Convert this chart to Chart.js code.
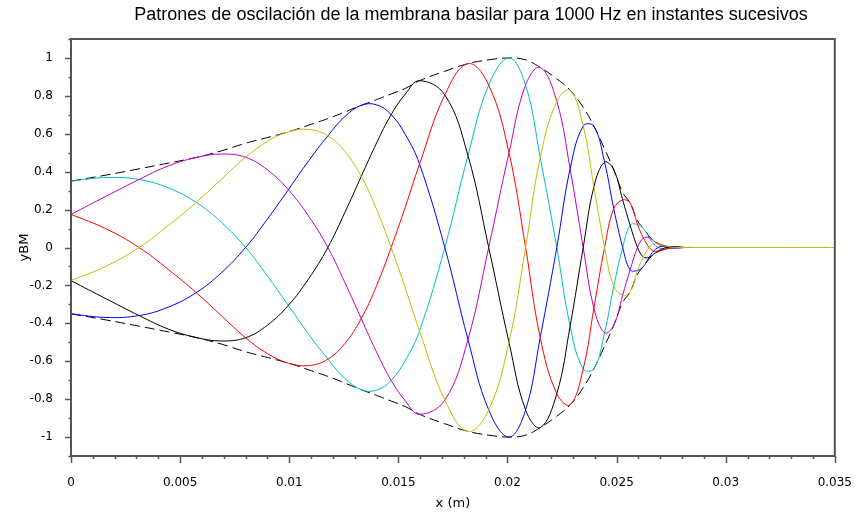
<!DOCTYPE html>
<html>
<head>
<meta charset="utf-8">
<script src="https://cdn.jsdelivr.net/npm/chart.js@4.4.0/dist/chart.umd.min.js"></script>
<style>
  html, body { margin: 0; padding: 0; background: #fff; }
</style>
</head>
<body>
<canvas id="myChart" width="864" height="515"></canvas>
<script>
var xPos = [0, 0.0016, 0.00312, 0.00445, 0.00574, 0.0069, 0.0080, 0.0090, 0.00996, 0.01088,
            0.01177, 0.01255, 0.0133, 0.0140, 0.01467, 0.01533, 0.01597, 0.01713, 0.01819, 0.01914,
            0.02007, 0.02083, 0.0215, 0.02226, 0.02287, 0.02347, 0.02396, 0.02445, 0.02487, 0.02528,
            0.02562, 0.02596, 0.02623, 0.02649, 0.0267, 0.0269, 0.0271, 0.0273, 0.0275, 0.0278,
            0.0282, 0.0285, 0.035]

// envelope (dashed)
var envelope = [0.35, 0.382, 0.415, 0.445, 0.475, 0.51, 0.55, 0.58, 0.61, 0.645,
                0.68, 0.715, 0.75, 0.78, 0.81, 0.84, 0.88, 0.93, 0.97, 0.99,
                1.0, 0.99, 0.95, 0.89, 0.83, 0.74, 0.64, 0.52, 0.41, 0.29,
                0.235, 0.14, 0.10, 0.06, 0.035, 0.022, 0.013, 0.008, 0.004, 0.002,
                0, 0, 0]

var cyanVals = [0.35, 0.369, 0.359, 0.315, 0.238, 0.132, 0, -0.150, -0.305, -0.456,
                -0.589, -0.691, -0.75, -0.753, -0.701, -0.594, -0.44, 0, 0.485, 0.857,
                1.0, 0.857, 0.475, 0, -0.415, -0.641, -0.64, -0.45, -0.205, 0,
                0.118, 0.121, 0.10, 0.052, 0.018, 0, -0.007, -0.007, -0.004, -0.002,
                0, 0, 0]
var magentaVals = [0.175, 0.270, 0.359, 0.430, 0.475, 0.493, 0.476, 0.410, 0.305, 0.167,
                   0, -0.185, -0.375, -0.551, -0.701, -0.811, -0.88, -0.805, -0.485, 0,
                   0.5, 0.857, 0.95, 0.771, 0.415, 0, -0.32, -0.45, -0.41, -0.251,
                   -0.118, 0, 0.05, 0.052, 0.035, 0.019, 0.007, 0, -0.002, -0.002,
                   0, 0, 0]
var oliveVals = [-0.175, -0.099, 0, 0.115, 0.238, 0.361, 0.476, 0.560, 0.61, 0.623,
                 0.589, 0.506, 0.375, 0.202, 0, -0.218, -0.44, -0.805, -0.97, -0.857,
                 -0.5, 0, 0.475, 0.771, 0.83, 0.641, 0.32, 0, -0.205, -0.251,
                 -0.235, -0.121, -0.05, 0, 0.018, 0.019, 0.013, 0.007, 0.002, 0,
                 0, 0, 0]
var blueVals = [-0.35, -0.369, -0.359, -0.315, -0.238, -0.132, 0, 0.150, 0.305, 0.456,
                0.589, 0.691, 0.75, 0.753, 0.701, 0.594, 0.44, 0, -0.485, -0.857,
                -1.0, -0.857, -0.475, 0, 0.415, 0.641, 0.64, 0.45, 0.205, 0,
                -0.118, -0.121, -0.10, -0.052, -0.018, 0, 0.007, 0.007, 0.004, 0.002,
                0, 0, 0]
var blackVals = [-0.175, -0.270, -0.359, -0.430, -0.475, -0.493, -0.476, -0.410, -0.305, -0.167,
                 0, 0.185, 0.375, 0.551, 0.701, 0.811, 0.88, 0.805, 0.485, 0,
                 -0.5, -0.857, -0.95, -0.771, -0.415, 0, 0.32, 0.45, 0.41, 0.251,
                 0.118, 0, -0.05, -0.052, -0.035, -0.019, -0.007, 0, 0.002, 0.002,
                 0, 0, 0]
var redVals = [0.175, 0.099, 0, -0.115, -0.238, -0.361, -0.476, -0.560, -0.61, -0.623,
               -0.589, -0.506, -0.375, -0.202, 0, 0.218, 0.44, 0.805, 0.97, 0.857,
               0.5, 0, -0.475, -0.771, -0.83, -0.641, -0.32, 0, 0.205, 0.251,
               0.235, 0.121, 0.05, 0, -0.018, -0.019, -0.013, -0.007, -0.002, 0,
               0, 0, 0]

var xTicksMajor = [0, 0.005, 0.01, 0.015, 0.02, 0.025, 0.03, 0.035]
var yTicksMajor = [-1, -0.8, -0.6, -0.4, -0.2, 0, 0.2, 0.4, 0.6, 0.8, 1]

var titleText = 'Patrones de oscilación de la membrana basilar para 1000 Hz en instantes sucesivos'
var tickFont = { family: 'DejaVu Sans', size: 12 }

function pts(vals) {
    return xPos.map(function (x, i) { return { x: x, y: vals[i] } })
}

function curve(vals, color) {
    return { data: pts(vals), borderColor: color, borderWidth: 1, pointRadius: 0, tension: 0.4, fill: false }
}

function isMajor(list, v) {
    return list.some(function (m) { return Math.abs(m - v) < 1e-9 })
}

// frame, outside tick marks and title, the way the original plot shows them
const frameAndTicks = {
    id: 'frameAndTicks',
    afterDraw(chart) {
        const ctx = chart.ctx
        const a = chart.chartArea
        const x = chart.scales.x
        const y = chart.scales.y
        ctx.save()
        ctx.strokeStyle = '#555'
        ctx.lineWidth = 2
        ctx.strokeRect(a.left, a.top, a.right - a.left, a.bottom - a.top)
        ctx.lineWidth = 1.5
        ctx.beginPath()
        x.ticks.forEach(function (t) {
            const px = Math.round(x.getPixelForValue(t.value)) + 0.5
            const len = isMajor(xTicksMajor, t.value) ? 7 : 3
            ctx.moveTo(px, a.bottom)
            ctx.lineTo(px, a.bottom + len)
        })
        y.ticks.forEach(function (t) {
            const py = Math.round(y.getPixelForValue(t.value)) + 0.5
            const len = isMajor(yTicksMajor, t.value) ? 6 : 2.5
            ctx.moveTo(a.left, py)
            ctx.lineTo(a.left - len, py)
        })
        ctx.stroke()
        ctx.fillStyle = '#000'
        ctx.font = '18px "Liberation Sans"'
        ctx.textAlign = 'center'
        ctx.textBaseline = 'middle'
        ctx.fillText(titleText, 471, 15)
        ctx.restore()
    }
}

const ctx = document.getElementById('myChart')
new Chart(ctx, {
    type: 'line',
    data: {
        datasets: [
            curve(oliveVals, '#BFBF00'),
            curve(redVals, '#FF0000'),
            curve(blackVals, '#000000'),
            curve(blueVals, '#0000FF'),
            curve(magentaVals, '#BF00BF'),
            curve(cyanVals, '#00BFBF'),
            Object.assign(curve(envelope, '#000000'), { borderDash: [10, 5] }),
            Object.assign(curve(envelope.map(function (v) { return -v }), '#000000'), { borderDash: [10, 5] })
        ]
    },
    options: {
        responsive: false,
        animation: false,
        layout: { padding: { left: 0, right: 21, top: 39, bottom: 0 } },
        plugins: {
            legend: { display: false },
            tooltip: { enabled: false }
        },
        scales: {
            x: {
                type: 'linear',
                min: 0,
                max: 0.035,
                afterFit: function (s) { s.height = 59 },
                grid: { display: false },
                border: { display: false },
                ticks: {
                    stepSize: 0.001,
                    autoSkip: false,
                    maxRotation: 0,
                    padding: 12,
                    color: '#000',
                    font: tickFont,
                    callback: function (v) {
                        return isMajor(xTicksMajor, v) ? String(Math.round(v * 1000) / 1000) : ''
                    }
                },
                title: { display: true, text: 'x (m)', color: '#000', font: { family: 'DejaVu Sans', size: 13 }, padding: { top: 0, bottom: 4 } }
            },
            y: {
                min: -1.1,
                max: 1.1,
                afterFit: function (s) { s.width = 71 },
                grid: { display: false },
                border: { display: false },
                ticks: {
                    stepSize: 0.1,
                    autoSkip: false,
                    padding: 10,
                    color: '#000',
                    font: tickFont,
                    callback: function (v) {
                        return isMajor(yTicksMajor, v) ? String(Math.round(v * 10) / 10) : ''
                    }
                },
                title: { display: true, text: 'yBM', color: '#000', font: { family: 'DejaVu Sans', size: 13 }, padding: { top: 17, bottom: 0 } }
            }
        }
    },
    plugins: [frameAndTicks]
});
</script>
</body>
</html>
